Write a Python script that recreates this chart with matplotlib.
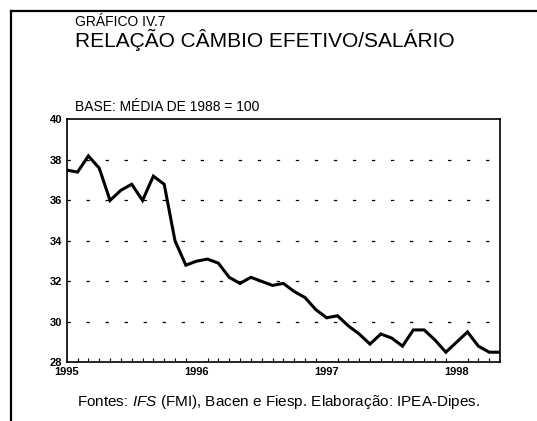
import numpy as np
import matplotlib
matplotlib.use("Agg")
import matplotlib.pyplot as plt
from matplotlib.lines import Line2D

# Dados mensais (jan/1995 a mai/1998), base: media de 1988 = 100
meses = np.arange(41)
relacao = [37.5, 37.4, 38.2, 37.6, 36.0, 36.5, 36.8, 36.0, 37.2, 36.8,
           34.0, 32.8, 33.0, 33.1, 32.9, 32.2, 31.9, 32.2, 32.0, 31.8,
           31.9, 31.5, 31.2, 30.6, 30.2, 30.3, 29.8, 29.4, 28.9, 29.4,
           29.2, 28.8, 29.6, 29.6, 29.1, 28.5, 29.0, 29.5, 28.8, 28.5, 28.5]
anos = ["1995", "1996", "1997", "1998"]
pos_anos = [0, 12, 24, 36]
y_ticks = [28, 30, 32, 34, 36, 38, 40]

plt.rcParams['font.family'] = ['Liberation Sans', 'DejaVu Sans']
plt.rcParams['lines.scale_dashes'] = False
# italico do "IFS" via mathtext com a mesma fonte
plt.rcParams['mathtext.fontset'] = 'custom'
plt.rcParams['mathtext.it'] = 'Liberation Sans:italic'
plt.rcParams['mathtext.rm'] = 'Liberation Sans'

fig = plt.figure(figsize=(5.37, 4.21), dpi=100)
ax = fig.add_axes([0.1242, 0.1394, 0.8069, 0.5768])

# linha da serie
ax.plot(meses, relacao, color='black', linewidth=2.2, solid_joinstyle='miter')

ax.set_xlim(0, 40)
ax.set_ylim(28, 40)

# grade horizontal tracejada
for v in y_ticks[1:-1]:
    ax.axhline(v, color='black', linewidth=0.9, dashes=(2.4, 11.3), zorder=0)

ax.set_yticks(y_ticks)
ax.set_yticklabels([str(v) for v in y_ticks], fontsize=8, fontweight='bold')
ax.tick_params(axis='y', length=0, pad=3)

ax.set_xticks(pos_anos)
ax.set_xticklabels(anos, fontsize=8, fontweight='bold')
ax.set_xticks(meses[1:-1], minor=True)
ax.tick_params(axis='x', which='major', length=0, pad=3.5)
ax.tick_params(axis='x', which='minor', direction='in', length=3, width=0.8)

for s in ax.spines.values():
    s.set_linewidth(1.2)

# textos
fig.text(0.14, 0.938, "GRÁFICO IV.7", fontsize=10, ha='left', va='baseline')
fig.text(0.14, 0.888, "RELAÇÃO CÂMBIO EFETIVO/SALÁRIO", fontsize=15, ha='left', va='baseline')
fig.text(0.14, 0.736, "BASE: MÉDIA DE 1988 = 100", fontsize=10, ha='left', va='baseline')

fig.text(0.518, 0.035, "Fontes: $\\it{IFS}$ (FMI), Bacen e Fiesp. Elaboração: IPEA-Dipes.",
         fontsize=11, ha='center', va='baseline')

# moldura (linha esquerda e superior)
fig.add_artist(Line2D([0.02, 0.02], [0.0, 0.974], color='black', linewidth=1.6, transform=fig.transFigure))
fig.add_artist(Line2D([0.02, 1.0], [0.974, 0.974], color='black', linewidth=1.6, transform=fig.transFigure))

fig.savefig("out.png", dpi=100)
